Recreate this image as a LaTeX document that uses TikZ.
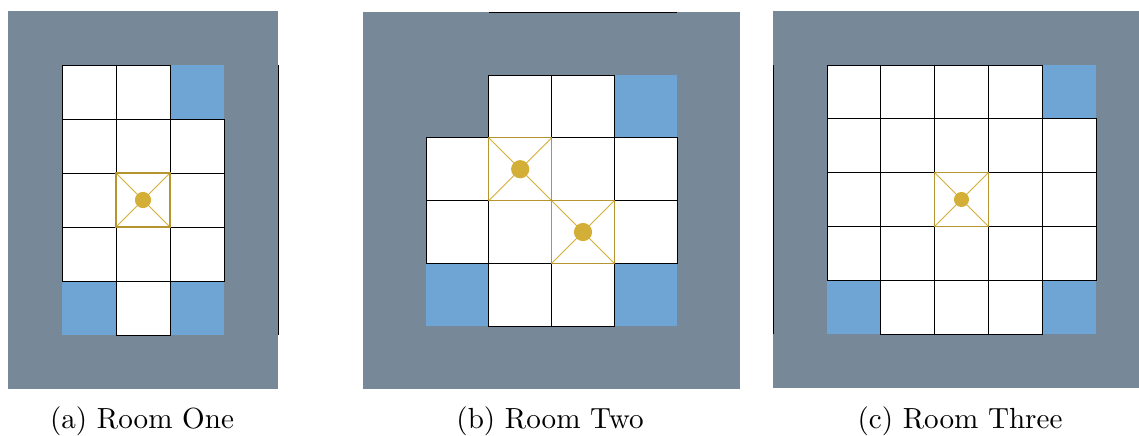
\documentclass[tikz,border=0pt]{standalone}
\usepackage{tikz}

\definecolor{wallgray}{RGB}{119,136,153}
\definecolor{goalblue}{RGB}{111,165,212}
\definecolor{agentgold}{RGB}{212,175,55}

\begin{document}
\begin{tikzpicture}[x=0.3436pt,y=-0.3436pt,
  wall/.style={fill=wallgray},
  floor/.style={draw=black,fill=white,line width=0.3pt},
  edge/.style={draw=black,line width=0.3pt},
  goal/.style={fill=goalblue},
  agent/.style={draw=agentgold!85!black,line width=0.45pt},
  cross/.style={draw=agentgold,line width=0.3pt},
  token/.style={fill=agentgold},
  sublabel/.style={anchor=base,inner sep=0pt}]
  \useasboundingbox (0,0) rectangle (1139,435);
  \clip (0,0) rectangle (1139,435);

  % room one: 3 x 5
  \begin{scope}[shift={(62,65)},scale=54]
    \fill[wall] (-1,-1) rectangle (4,6);
    \draw[edge] (4,0) -- (4,5);
    \foreach \c/\r in {2/0,0/4,2/4} \fill[goal] (\c,\r) rectangle +(1,1);
    \foreach \c/\r in {0/0,1/0,0/1,1/1,2/1,0/2,1/2,2/2,0/3,1/3,2/3,1/4}
      \draw[floor] (\c,\r) rectangle +(1,1);
    \draw[cross] (1,2) -- (2,3) (2,2) -- (1,3);
    \draw[agent] (1,2) rectangle (2,3);
    \fill[token] (1.5,2.5) circle[radius=0.15];
  \end{scope}

  % room two: 4 x 4, top left corner walled
  \begin{scope}[shift={(426,75)},scale=62.8]
    \fill[wall] (-1,-1) rectangle (5,5);
    \draw[edge] (1,-1) -- (4,-1);
    \foreach \c/\r in {3/0,0/3,3/3} \fill[goal] (\c,\r) rectangle +(1,1);
    \foreach \c/\r in {1/0,2/0,0/1,1/1,2/1,3/1,0/2,1/2,2/2,3/2,1/3,2/3}
      \draw[floor] (\c,\r) rectangle +(1,1);
    \foreach \c/\r in {1/1,2/2}{
      \draw[cross] (\c,\r) -- +(1,1) (\c+1,\r) -- +(-1,1);
      \draw[agent] (\c,\r) rectangle +(1,1);
      \fill[token] (\c+0.5,\r+0.5) circle[radius=0.145];
    }
  \end{scope}

  % room three: 5 x 5
  \begin{scope}[shift={(827,65)},scale=53.8]
    \fill[wall] (-1,-1) rectangle (6,6);
    \draw[edge] (-1,0) -- (-1,5);
    \foreach \c/\r in {4/0,0/4,4/4} \fill[goal] (\c,\r) rectangle +(1,1);
    \foreach \c in {0,...,3} \draw[floor] (\c,0) rectangle +(1,1);
    \foreach \r in {1,2,3} \foreach \c in {0,...,4} \draw[floor] (\c,\r) rectangle +(1,1);
    \foreach \c in {1,2,3} \draw[floor] (\c,4) rectangle +(1,1);
    \draw[cross] (2,2) -- (3,3) (3,2) -- (2,3);
    \draw[agent] (2,2) rectangle (3,3);
    \fill[token] (2.5,2.5) circle[radius=0.14];
  \end{scope}

  \node[sublabel] (capa) at (142,428) {(a) Room One};
  \node[sublabel] (capb) at (550,428) {(b) Room Two};
  \node[sublabel] (capc) at (960,428) {(c) Room Three};
\end{tikzpicture}
\end{document}
